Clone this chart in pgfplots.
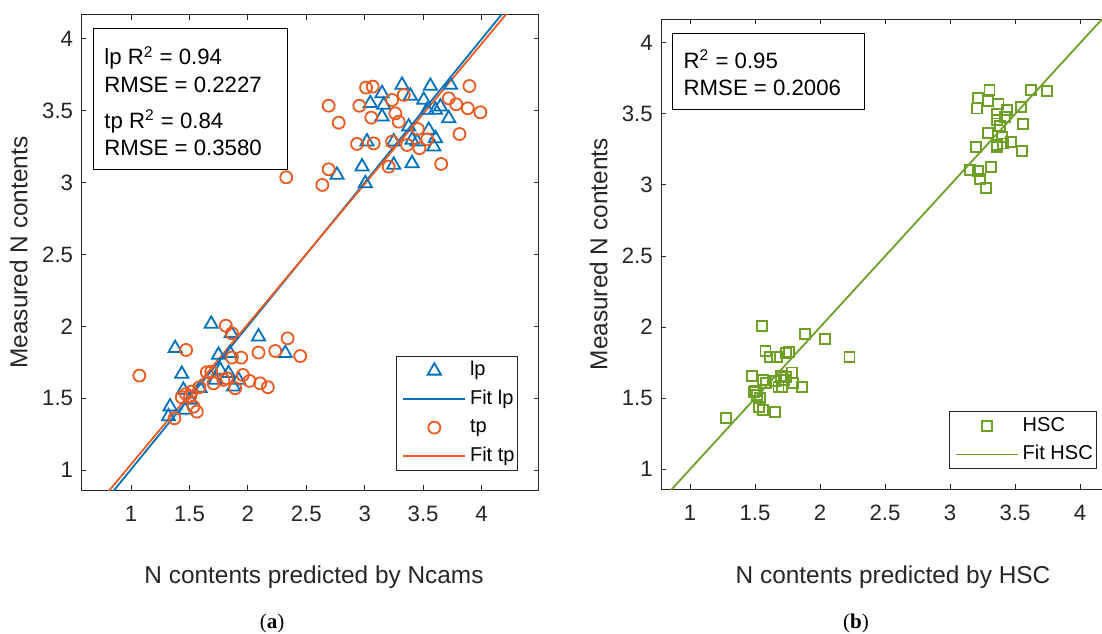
\documentclass[border=0pt]{standalone}
\usepackage{fontspec}
\setmainfont{Liberation Sans}
\newfontfamily\capfont{Liberation Serif}
\usepackage{pgfplots}
\pgfplotsset{compat=1.18}
\definecolor{mblue}{HTML}{0072BD}
\definecolor{morange}{HTML}{F05A1E}
\definecolor{mgreen}{HTML}{6EA028}
\definecolor{axgray}{gray}{0.15}
\pgfplotsset{
 legmark/.style={legend image code/.code={\path[draw=none,fill=none] (0pt,0pt) -- (35pt,0pt); \draw[##1] plot coordinates {(18.8pt,0pt)};}},
 legline/.style={legend image code/.code={\path[draw=none,fill=none] (0pt,0pt) -- (35pt,0pt); \draw[##1] (3.35pt,0pt) -- (34.2pt,0pt);}},
 mystyle/.style={
  scale only axis,
  axis line style={draw=axgray, line width=0.5pt},
  tick style={draw=axgray, line width=0.5pt},
  tick align=inside,
  major tick length=2.6pt,
  xtick={1,1.5,2,2.5,3,3.5,4},
  ytick={1,1.5,2,2.5,3,3.5,4},
  minor tick num=0,
  /pgf/number format/assume math mode=true,
  tick label style={font=\fontsize{11.1}{13}\selectfont, text=axgray},
  xticklabel style={yshift=-4.5pt},
  yticklabel style={xshift=-0.6pt},
  legend cell align=left,
  legend style={draw=axgray, line width=0.5pt, fill=white, inner xsep=0pt, inner ysep=0pt,
    font=\fontsize{10}{12}\selectfont,
    nodes={inner xsep=1.65pt, inner ysep=0pt, text height=9.6pt, text depth=4.6pt}},
 }
}
\begin{document}
\begin{tikzpicture}
\begin{axis}[mystyle, at={(40.65pt,71.35pt)}, anchor=south west,
  width=228.7pt, height=237.65pt,
  xmin=0.574, xmax=4.489, ymin=0.859, ymax=4.165,
  legend style={at={(0.9554,0.0412)}, anchor=south east}]
\addplot[legmark, only marks, mark=triangle, mark size=3.8pt, draw=mblue, mark options={line width=0.9pt, fill=none}] coordinates {
(3.319,3.678) (3.562,3.671) (3.734,3.678) (3.148,3.620) (3.391,3.602) (3.505,3.574) (3.648,3.527) (3.048,3.551) (3.162,3.539) (3.534,3.504) (3.605,3.504) (3.148,3.458) (3.719,3.446) (3.376,3.388) (3.548,3.365) (3.605,3.307) (3.019,3.284) (3.248,3.284) (3.405,3.296) (3.448,3.284) (3.591,3.249) (2.977,3.110) (3.248,3.122) (3.405,3.133) (2.763,3.052) (3.005,2.994)
(1.686,2.016) (1.857,1.951) (2.091,1.928) (1.377,1.847) (2.320,1.812) (1.748,1.800) (1.848,1.812) (1.434,1.668) (1.763,1.696) (1.834,1.673) (1.720,1.627) (1.920,1.627) (1.877,1.580) (1.448,1.557) (1.591,1.569) (1.505,1.487) (1.334,1.441) (1.320,1.372) (1.463,1.418)
};
\addlegendentry{lp}
\addplot[legline, mblue, line width=0.9pt] coordinates {(0.5,0.506) (4.6,4.596)};
\addlegendentry{Fit lp}
\addplot[legmark, only marks, mark=o, mark size=3pt, draw=morange, mark options={line width=0.9pt}] coordinates {
(2.328,3.036) (2.637,2.983) (2.691,3.092) (2.691,3.534) (2.777,3.416) (2.954,3.534) (3.011,3.660) (3.068,3.667) (3.056,3.451) (3.234,3.574) (3.334,3.609) (3.262,3.481) (3.291,3.423) (2.934,3.268) (3.077,3.272) (3.234,3.284) (3.205,3.110) (3.454,3.372) (3.362,3.261) (3.468,3.238) (3.534,3.300) (3.719,3.585) (3.782,3.544) (3.896,3.671) (3.882,3.516) (3.990,3.488) (3.811,3.337) (3.654,3.129)
(1.071,1.657) (1.471,1.835) (1.811,2.004) (1.863,1.951) (1.943,1.782) (1.863,1.782) (2.091,1.817) (2.234,1.828) (2.340,1.916) (2.448,1.793) (1.648,1.680) (1.686,1.684) (1.706,1.603) (1.791,1.627) (1.820,1.638) (1.891,1.569) (1.957,1.661) (2.014,1.620) (2.105,1.603) (2.171,1.576) (1.585,1.576) (1.520,1.546) (1.471,1.529) (1.434,1.506) (1.534,1.441) (1.563,1.406) (1.371,1.360) (1.505,1.511)
};
\addlegendentry{tp}
\addplot[legline, morange, line width=0.9pt] coordinates {(0.5,0.5525) (4.6,4.55)};
\addlegendentry{Fit tp}
\end{axis}
\begin{axis}[mystyle, at={(330.5pt,71.85pt)}, anchor=south west,
  width=228.5pt, height=235pt,
  xmin=0.777, xmax=4.292, ymin=0.859, ymax=4.165,
  legend style={at={(0.953,0.0426)}, anchor=south east}]
\addplot[legmark, only marks, mark=square, mark size=2.5pt, draw=mgreen, mark options={line width=0.9pt}] coordinates {
(3.303,3.667) (3.621,3.667) (3.744,3.663) (3.218,3.609) (3.295,3.592) (3.372,3.569) (3.205,3.538) (3.546,3.550) (3.436,3.527) (3.359,3.503) (3.423,3.480) (3.359,3.456) (3.564,3.428) (3.385,3.414) (3.295,3.367) (3.398,3.339) (3.200,3.269) (3.364,3.281) (3.410,3.292) (3.467,3.302) (3.551,3.238) (3.359,3.269) (3.315,3.128) (3.154,3.105) (3.218,3.100) (3.231,3.039) (3.274,2.976)
(1.556,2.008) (1.885,1.949) (2.039,1.916) (2.226,1.792) (1.580,1.834) (1.615,1.787) (1.667,1.787) (1.739,1.820) (1.764,1.827) (1.474,1.656) (1.564,1.628) (1.585,1.609) (1.654,1.623) (1.698,1.656) (1.739,1.651) (1.782,1.680) (1.795,1.609) (1.723,1.628) (1.680,1.576) (1.705,1.576) (1.859,1.576) (1.492,1.541) (1.513,1.523) (1.539,1.504) (1.533,1.436) (1.564,1.417) (1.654,1.405) (1.277,1.358) (1.500,1.553)
};
\addlegendentry{HSC}
\addplot[legline, mgreen, line width=0.9pt] coordinates {(0.5,0.5) (4.6,4.597)};
\addlegendentry{Fit HSC}
\end{axis}
% statistics boxes
\draw[black, line width=0.5pt] (46.65pt,302pt) rectangle (143.65pt,231.5pt);
\begin{scope}[every node/.style={anchor=base west, inner sep=0pt, font=\fontsize{11.1}{13}\selectfont}]
\node at (52pt,284pt) {lp R\textsuperscript{2} = 0.94};
\node at (52pt,270.15pt) {RMSE = 0.2227};
\node at (52pt,252.35pt) {tp R\textsuperscript{2} = 0.84};
\node at (52pt,238.65pt) {RMSE = 0.3580};
\node at (341.65pt,282.35pt) {R\textsuperscript{2} = 0.95};
\node at (341.65pt,268.5pt) {RMSE = 0.2006};
\end{scope}
\draw[black, line width=0.5pt] (336.35pt,299.85pt) rectangle (432pt,261.5pt);
% axis labels
\begin{scope}[every node/.style={anchor=base, inner sep=0pt, font=\fontsize{12.2}{14}\selectfont, text=axgray}]
\node at (157pt,25pt) {N contents predicted by Ncams};
\node at (446.5pt,25pt) {N contents predicted by HSC};
\node[rotate=90] at (13.65pt,190.2pt) {Measured N contents};
\node[rotate=90] at (303.65pt,189.35pt) {Measured N contents};
\end{scope}
\node[anchor=base, inner sep=0pt, font=\capfont\fontsize{10.5}{12}\selectfont] at (136pt,2.5pt) {(\textbf{a})};
\node[anchor=base, inner sep=0pt, font=\capfont\fontsize{10.5}{12}\selectfont] at (428pt,2.5pt) {(\textbf{b})};
\pgfresetboundingbox
\path[use as bounding box] (0,0) rectangle (551pt,316.5pt);
\end{tikzpicture}
\end{document}
